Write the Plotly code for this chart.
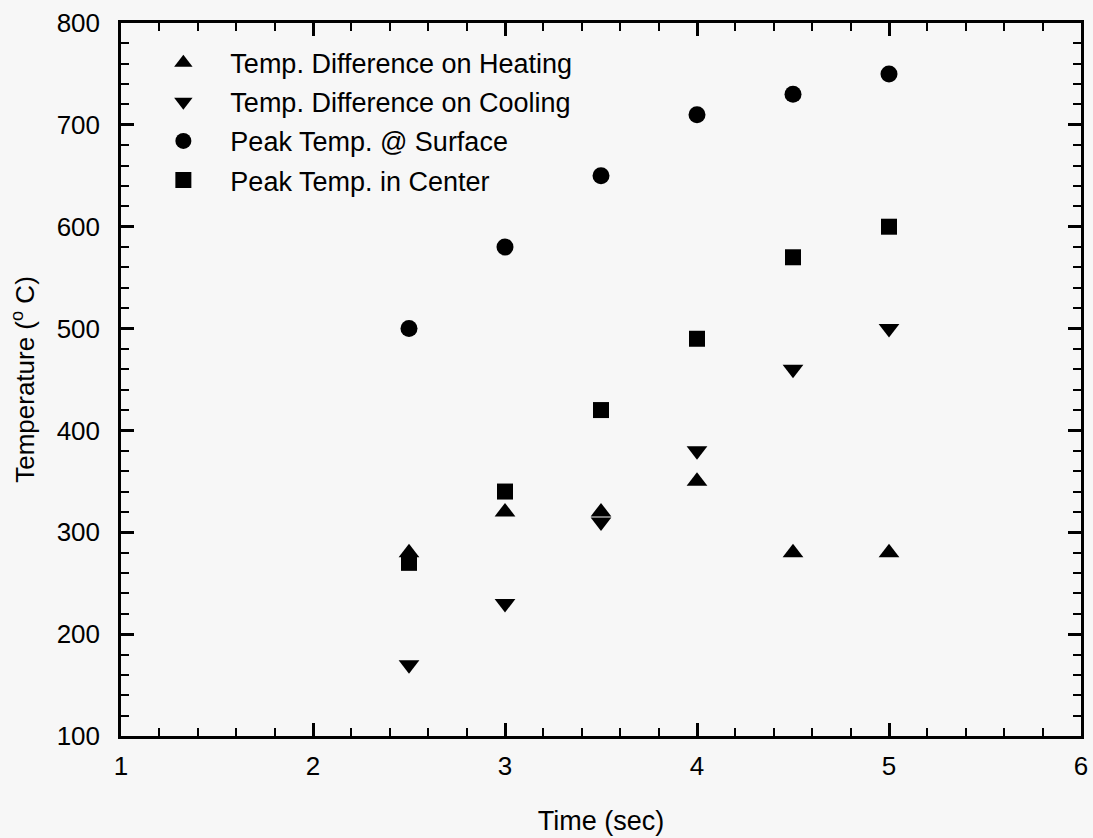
import plotly.graph_objects as go

time_sec = [2.5, 3.0, 3.5, 4.0, 4.5, 5.0]
heating_diff = [280, 320, 320, 350, 280, 280]
cooling_diff = [170, 230, 310, 380, 460, 500]
peak_surface = [500, 580, 650, 710, 730, 750]
peak_center = [270, 340, 420, 490, 570, 600]

series = [
    ("Temp. Difference on Heating", heating_diff, "triangle-up", 18),
    ("Temp. Difference on Cooling", cooling_diff, "triangle-down", 18),
    ("Peak Temp. @ Surface", peak_surface, "circle", 17),
    ("Peak Temp. in Center", peak_center, "square", 16),
]

FONT = "Liberation Sans, Arial, sans-serif"
fig = go.Figure()
for i, (name, vals, sym, sz) in enumerate(series):
    fig.add_trace(go.Scatter(
        x=time_sec, y=vals, mode="markers", name=name,
        legendgroup=f"g{i}",
        marker=dict(symbol=sym, size=sz, color="black"),
    ))

axis_common = dict(
    showline=True, linecolor="black", linewidth=2.5, mirror="allticks",
    ticks="inside", tickcolor="black", tickwidth=2.5, ticklen=13,
    showgrid=False, zeroline=False, automargin=False,
    tickfont=dict(family=FONT, size=26, color="black"),
)
fig.update_xaxes(range=[1, 6], dtick=1, tick0=1, ticklabelstandoff=5,
                 minor=dict(dtick=0.2, ticks="inside", ticklen=8, tickwidth=2, tickcolor="black"),
                 title=dict(text="Time (sec)", font=dict(family=FONT, size=27, color="black"), standoff=32),
                 **axis_common)
fig.update_yaxes(range=[100, 800], dtick=100, tick0=100, ticklabelstandoff=13,
                 minor=dict(dtick=20, ticks="inside", ticklen=8, tickwidth=2, tickcolor="black"),
                 title=dict(text="Temperature (<sup>o</sup> C)", font=dict(family=FONT, size=26, color="black"), standoff=15),
                 **axis_common)

fig.update_layout(
    width=1093, height=838,
    margin=dict(l=121, r=12, t=23, b=102),
    paper_bgcolor="#f7f7f7", plot_bgcolor="#f7f7f7",
    showlegend=True,
    legend=dict(x=0.016, y=0.978, xanchor="left", yanchor="top",
                bgcolor="rgba(0,0,0,0)", itemwidth=84, tracegroupgap=1,
                font=dict(family=FONT, size=27, color="black")),
)
fig.write_html("out.html")
